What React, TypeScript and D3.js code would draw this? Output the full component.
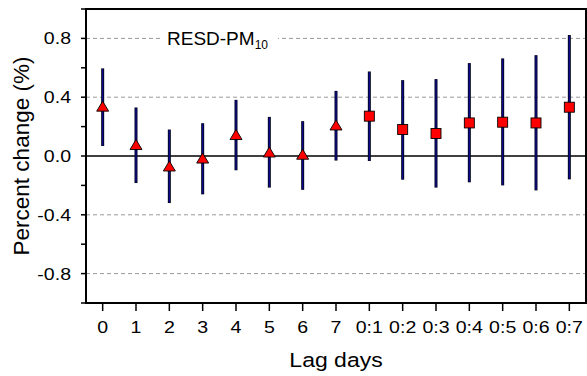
import React from "react";
import * as d3 from "d3";

const categories = ["0", "1", "2", "3", "4", "5", "6", "7", "0:1", "0:2", "0:3", "0:4", "0:5", "0:6", "0:7"];
const estimates = [0.339, 0.078, -0.068, -0.014, 0.146, 0.027, 0.012, 0.211, 0.271, 0.18, 0.153, 0.225, 0.23, 0.225, 0.332];
const lower = [0.068, -0.184, -0.32, -0.261, -0.097, -0.215, -0.23, -0.031, -0.034, -0.161, -0.215, -0.179, -0.2, -0.234, -0.159];
const upper = [0.596, 0.33, 0.18, 0.223, 0.382, 0.266, 0.237, 0.443, 0.575, 0.516, 0.523, 0.632, 0.664, 0.686, 0.823];
const markerType = ["tri", "tri", "tri", "tri", "tri", "tri", "tri", "tri", "sq", "sq", "sq", "sq", "sq", "sq", "sq"];
const yLabelTicks = [0.8, 0.4, 0.0, -0.4, -0.8];
const yTicks = [1.0, 0.8, 0.6, 0.4, 0.2, 0.0, -0.2, -0.4, -0.6, -0.8, -1.0];
const gridTicks = [0.8, 0.4, -0.4, -0.8];

const W = 587, H = 376;
const L = 86, R = 586, T = 9, B = 303;
const font = "'Liberation Sans', Arial, Helvetica, sans-serif";

export default function App() {
  const x = d3.scaleLinear().domain([-0.5, categories.length - 0.5]).range([L, R]);
  const y = d3.scaleLinear().domain([-1, 1]).range([B, T]);
  const fmt = (v: number) => d3.format(".1f")(v).replace("−", "-");
  const triPath = "M0,-5L6,5L-6,5Z";

  return (
    <svg width={W} height={H} style={{ position: "absolute", left: 0, top: 0, background: "#fff" }} fontFamily={font}>
      {gridTicks.map((t) => (
        <line key={t} x1={L} x2={R} y1={y(t)} y2={y(t)} stroke="#9a9a9a" strokeWidth={1} strokeDasharray="4,3" />
      ))}
      {/* title with background */}
      <rect x={162} y={28} width={116} height={22} fill="#fff" />
      <text x={167} y={44.5} fontSize={19} fill="#000">
        RESD-PM<tspan fontSize={12} dy={4}>10</tspan>
      </text>
      <line x1={L} x2={R} y1={y(0)} y2={y(0)} stroke="#000" strokeWidth={1.5} />
      {/* error bars */}
      {categories.map((c, i) => (
        <g key={c}>
          <line x1={x(i)} x2={x(i)} y1={y(lower[i])} y2={y(upper[i])} stroke="#03031c" strokeWidth={3} />
          <line x1={x(i)} x2={x(i)} y1={y(lower[i]) - 0.5} y2={y(upper[i]) + 0.5} stroke="#0c0c96" strokeWidth={1.2} />
        </g>
      ))}
      {/* markers */}
      {categories.map((c, i) =>
        markerType[i] === "tri" ? (
          <path key={c} d={triPath} transform={`translate(${x(i)},${y(estimates[i])})`} fill="#ff0000" stroke="#000" strokeWidth={0.9} />
        ) : (
          <rect key={c} x={x(i) - 5} y={y(estimates[i]) - 5} width={10} height={10} fill="#ff0000" stroke="#000" strokeWidth={0.9} />
        )
      )}
      {/* frame */}
      <rect x={L} y={T} width={R - L} height={B - T} fill="none" stroke="#000" strokeWidth={2} />
      {/* y ticks */}
      {yTicks.map((t) => (
        <line key={t} x1={L - 5} x2={L} y1={y(t)} y2={y(t)} stroke="#000" strokeWidth={1.5} />
      ))}
      {yLabelTicks.map((t) => (
        <text key={t} transform={`translate(71,${y(t)}) scale(1.15,1)`} dy="0.35em" textAnchor="end" fontSize={17}>{fmt(t)}</text>
      ))}
      {/* x ticks */}
      {categories.map((c, i) => (
        <g key={c}>
          <line x1={x(i)} x2={x(i)} y1={B} y2={B + 8} stroke="#000" strokeWidth={1.5} />
          <text transform={`translate(${x(i)},332.7) scale(1.15,1)`} textAnchor="middle" fontSize={17}>{c}</text>
        </g>
      ))}
      <text transform="translate(336,366.7) scale(1.18,1)" textAnchor="middle" fontSize={19.5}>Lag days</text>
      <text transform={`translate(28.5,156) rotate(-90)`} textAnchor="middle" fontSize={22.5}>Percent change (%)</text>
    </svg>
  );
}
